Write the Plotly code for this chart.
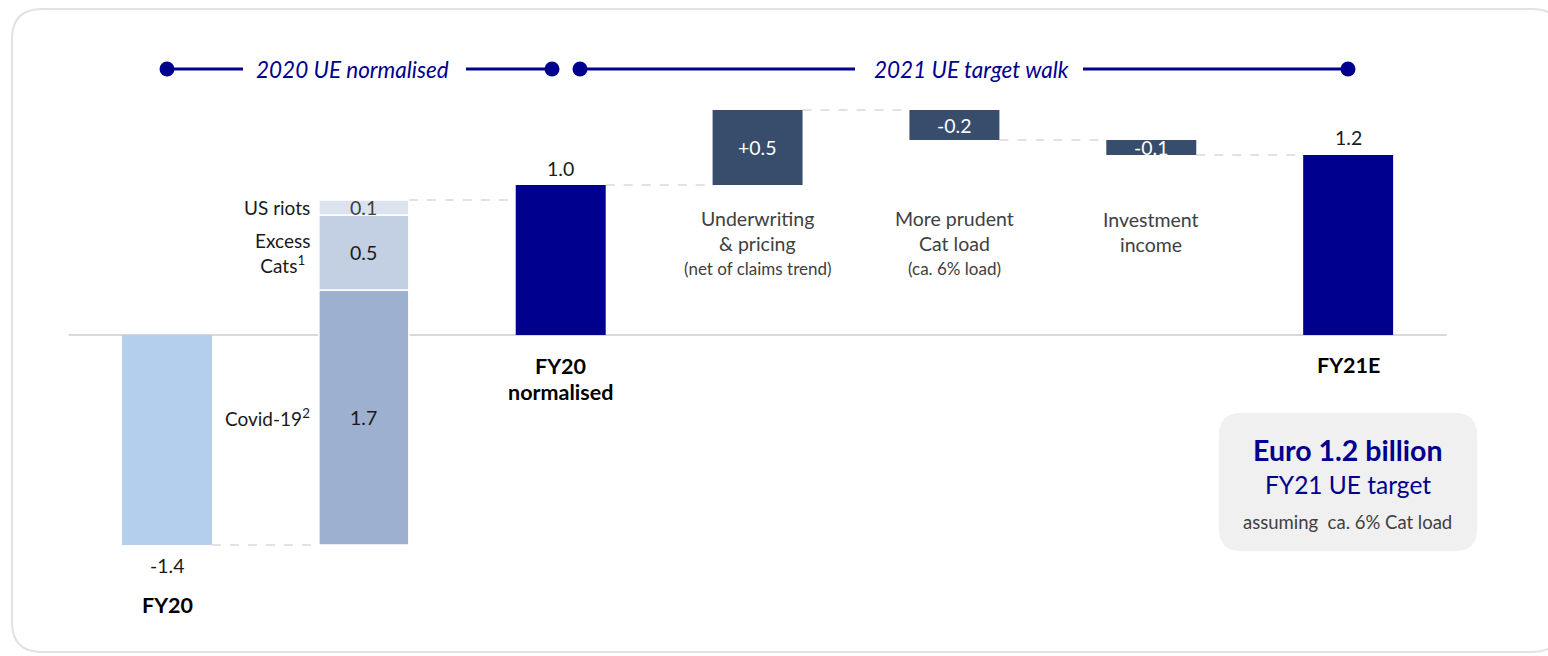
import plotly.graph_objects as go

# ---- data -------------------------------------------------------------
fy20_label = "FY20"
fy20_value = -1.4

bridge_items = ["Covid-19<sup>2</sup>", "Excess<br>Cats<sup>1</sup>", "US riots"]
bridge_values = [1.7, 0.5, 0.1]

normalised_label = ["FY20", "normalised"]
normalised_value = 1.0

walk_items = [
    ["Underwriting", "& pricing", "(net of claims trend)"],
    ["More prudent", "Cat load", "(ca. 6% load)"],
    ["Investment", "income"],
]
walk_values = [0.5, -0.2, -0.1]

target_label = "FY21E"
target_value = 1.2

section_titles = ["2020 UE normalised", "2021 UE target walk"]
callout_lines = ["Euro 1.2 billion", "FY21 UE target", "assuming\u00a0\u00a0ca. 6% Cat load"]

# ---- styling ----------------------------------------------------------
W, H = 1548, 656
X0_PX, X_STEP = 167.0, 196.857      # pixel centre of the first category, category pitch
Y0_PX, Y_SCALE = 335.0, 150.0       # pixel row of zero, pixels per unit
BAR_W = 0.457

NAVY = "#00008f"
SLATE = "#384c6b"
FY20_BLUE = "#b4cfed"
STACK_COLORS = ["#9db0cf", "#c3cfe2", "#dde3ee"]
GRID = "#d9d9d9"
TEXT = "#1a1a1a"
SUBTEXT = "#404040"
FONT = "Lato, 'Noto Sans', sans-serif"

VALUE_SIZE = 19.5
SIDE_SIZE = 19
DESC_SIZE = 19.5
NOTE_SIZE = 17
CAT_SIZE = 21.5
HEADER_SIZE = 22.5


def py(p):
    """Vertical pixel row -> value on the y axis."""
    return (Y0_PX - p) / Y_SCALE


def px(p):
    """Horizontal pixel column -> value on the x axis."""
    return (p - X0_PX) / X_STEP


def rounded_rect(x0, y0, x1, y1, r):
    """SVG path in paper coordinates for a pixel-space rounded rectangle."""
    def P(x, y):
        return f"{x / W:.5f},{1 - y / H:.5f}"
    return (f"M {P(x0 + r, y0)} L {P(x1 - r, y0)} Q {P(x1, y0)} {P(x1, y0 + r)} "
            f"L {P(x1, y1 - r)} Q {P(x1, y1)} {P(x1 - r, y1)} "
            f"L {P(x0 + r, y1)} Q {P(x0, y1)} {P(x0, y1 - r)} "
            f"L {P(x0, y0 + r)} Q {P(x0, y0)} {P(x0 + r, y0)} Z")


fig = go.Figure()
annotations = []
shapes = []


def label(x, y, text, size=VALUE_SIZE, color=TEXT, xanchor="center", yanchor="middle",
          xshift=0, yshift=0, bold=False, italic=False):
    if bold:
        text = f"<b>{text}</b>"
    if italic:
        text = f"<i>{text}</i>"
    annotations.append(dict(
        x=x, y=y, xref="x", yref="y", text=text, showarrow=False,
        xanchor=xanchor, yanchor=yanchor, xshift=xshift, yshift=yshift,
        font=dict(family=FONT, size=size, color=color),
    ))


def connector(x_from, x_to, level):
    shapes.append(dict(
        type="line", xref="x", yref="y",
        x0=x_from + BAR_W / 2, x1=x_to - BAR_W / 2, y0=level, y1=level,
        line=dict(color=GRID, width=1.5, dash="dash"), layer="below",
    ))


# ---- FY20 -------------------------------------------------------------
fig.add_trace(go.Bar(x=[0], y=[fy20_value], base=[0], width=BAR_W,
                     marker=dict(color=FY20_BLUE, line=dict(width=0)),
                     hoverinfo="skip"))
label(0, fy20_value, f"{fy20_value:.1f}", yshift=-20)
label(0, py(605), fy20_label, size=CAT_SIZE, bold=True, color="#000000")

# ---- normalisation stack ----------------------------------------------
level = fy20_value
connector(0, 1, level)
for item, val, col in zip(bridge_items, bridge_values, STACK_COLORS):
    fig.add_trace(go.Bar(x=[1], y=[val], base=[level], width=BAR_W,
                         marker=dict(color=col, line=dict(color="white", width=1.5)),
                         hoverinfo="skip"))
    mid = level + val / 2
    label(1, mid, f"{val:.1f}", color=SUBTEXT if val < 0.2 else TEXT)
    label(1 - BAR_W / 2, mid, item, size=SIDE_SIZE, xanchor="right", xshift=-7)
    level += val
connector(1, 2, level)

# ---- FY20 normalised --------------------------------------------------
fig.add_trace(go.Bar(x=[2], y=[normalised_value], base=[0], width=BAR_W,
                     marker=dict(color=NAVY, line=dict(width=0)), hoverinfo="skip"))
label(2, normalised_value, f"{normalised_value:.1f}", yshift=17)
for row, line in zip([366, 392], normalised_label):
    label(2, py(row), line, size=CAT_SIZE, bold=True, color="#000000")

# ---- 2021 walk --------------------------------------------------------
level = normalised_value
prev_x = 2
desc_rows = [218, 243, 268]
for i, (lines, val) in enumerate(zip(walk_items, walk_values)):
    xi = 3 + i
    connector(prev_x, xi, level)
    fig.add_trace(go.Bar(x=[xi], y=[val], base=[level], width=BAR_W,
                         marker=dict(color=SLATE, line=dict(width=0)), hoverinfo="skip"))
    label(xi, level + val / 2, f"{val:+.1f}", color="white")
    for j, line in enumerate(lines):
        note = j == 2
        label(xi, py(desc_rows[j] + (1 if len(lines) == 2 else 0)), line,
              size=NOTE_SIZE if note else DESC_SIZE, color=SUBTEXT)
    level += val
    prev_x = xi
connector(prev_x, 6, level)

# ---- FY21E ------------------------------------------------------------
fig.add_trace(go.Bar(x=[6], y=[target_value], base=[0], width=BAR_W,
                     marker=dict(color=NAVY, line=dict(width=0)), hoverinfo="skip"))
label(6, target_value, f"{target_value:.1f}", yshift=18)
label(6, py(365), target_label, size=CAT_SIZE, bold=True, color="#000000")

# ---- zero line ----------------------------------------------------------
shapes.append(dict(type="line", xref="x", yref="y", x0=-0.5, x1=6.5, y0=0, y1=0,
                   line=dict(color=GRID, width=2), layer="below"))

# ---- section headers --------------------------------------------------
hy = py(69)
header_segments = [(px(167), px(243)), (px(466), px(552)),
                   (px(580), px(855)), (px(1083), px(1348))]
for a, b in header_segments:
    shapes.append(dict(type="line", xref="x", yref="y", x0=a, x1=b, y0=hy, y1=hy,
                       line=dict(color=NAVY, width=3)))
fig.add_trace(go.Scatter(
    x=[px(167), px(552), px(580), px(1348)], y=[hy] * 4, mode="markers",
    marker=dict(color=NAVY, size=15, line=dict(width=0)), hoverinfo="skip"))
label(px(352.5), hy, section_titles[0], size=HEADER_SIZE, color=NAVY, italic=True)
label(px(971), hy, section_titles[1], size=HEADER_SIZE, color=NAVY, italic=True)

# ---- call-out box -----------------------------------------------------
shapes.append(dict(type="path", xref="paper", yref="paper",
                   path=rounded_rect(1219, 413, 1477, 551, 22),
                   fillcolor="#f0f0f0", line=dict(width=0), layer="below"))
label(px(1348), py(450), callout_lines[0], size=28.5, color=NAVY, bold=True)
label(px(1348), py(484), callout_lines[1], size=24.5, color=NAVY)
label(px(1347), py(522), callout_lines[2], size=18.5, color=SUBTEXT)

# ---- outer frame ------------------------------------------------------
shapes.append(dict(type="path", xref="paper", yref="paper",
                   path=rounded_rect(12, 9, 1562, 652, 30),
                   fillcolor="rgba(0,0,0,0)", line=dict(color="#e2e2e2", width=2),
                   layer="below"))

fig.update_layout(
    width=W, height=H,
    margin=dict(l=0, r=0, t=0, b=0),
    paper_bgcolor="white", plot_bgcolor="white",
    showlegend=False, barmode="overlay",
    xaxis=dict(range=[px(0), px(W)], visible=False, fixedrange=True),
    yaxis=dict(range=[py(H), py(0)], visible=False, fixedrange=True),
    annotations=annotations, shapes=shapes,
    font=dict(family=FONT),
)

fig.write_html("out.html", config={"displayModeBar": False})
